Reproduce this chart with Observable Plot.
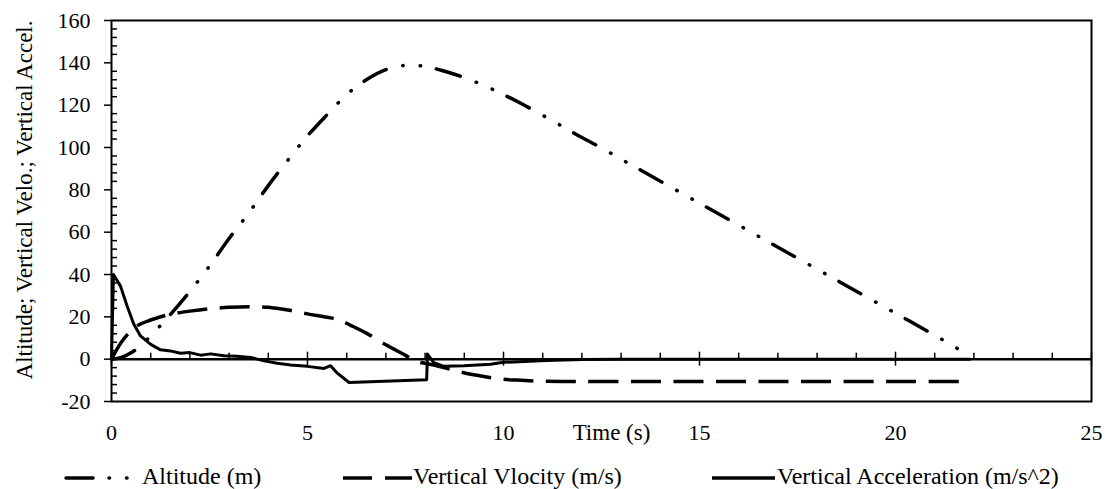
<!DOCTYPE html>
<html>
<head>
<meta charset="utf-8">
<script src="https://cdn.jsdelivr.net/npm/d3@7"></script>
<script src="https://cdn.jsdelivr.net/npm/@observablehq/plot@0.6"></script>
<style>
  html, body { margin: 0; padding: 0; background: #fff; }
  #wrap { width: 1106px; height: 489px; position: relative; }
  #legend { display: block; }
  #chart svg text { font-family: 'Liberation Serif', 'Times New Roman', serif; font-variant-numeric: normal; }
</style>
</head>
<body>
<div id="wrap"><div id="chart"></div><div id="legendBox"></div></div>
<script>
// ---- Data ----
const altT = [0,0.25,0.5,0.75,1,1.5,2,2.5,3,3.5,4,4.5,5,5.5,6,6.5,7,7.5,8,8.5,9,9.5,10,10.5,11,11.5,12,12.5,13,14,15,16,17,18,19,20,21,21.9];
const altV = [0,0.8,3,6.5,11,21,32,44,57,69,82,94,105.5,115.5,125,132,136.8,138.8,138.3,136,133,129.3,125,120.3,115.2,110,104.7,99.8,94.5,84.1,73.7,63.3,52.9,42.5,32.1,21.7,11.3,1.5];

const velT = [0,0.1,0.25,0.4,0.65,1,1.38,1.67,2,2.5,3,3.5,4,4.5,5,5.5,5.8,6.1,6.5,7,7.5,7.76,8,8.3,8.8,9.24,9.5,9.92,10.35,11,12,14,16,18,20,21.9];
const velV = [0,3.5,8,11.5,15.7,18.5,20.7,21.8,22.7,23.8,24.5,24.8,24.5,23.2,21.4,19.8,18.6,16,12.3,6.8,1.8,-1,-2,-3.1,-5.6,-7.4,-8.2,-9.4,-9.9,-10.4,-10.5,-10.5,-10.5,-10.5,-10.5,-10.5];

const accT = [0,0.05,0.23,0.4,0.57,0.74,1,1.25,1.5,1.76,2,2.27,2.53,2.87,3.2,3.55,3.89,4.23,4.57,5,5.42,5.59,5.76,6.06,8.04,8.06,8.22,8.48,8.99,9.67,10,11.1,12,13,15,18,21.9];
const accV = [0,40,34.5,25,16.5,11,7,4.4,3.9,2.8,3.1,1.9,2.5,1.6,1.4,0.8,-0.8,-1.9,-2.8,-3.4,-4.4,-3.1,-6.6,-11,-9.7,2.4,-1.6,-3.4,-3.1,-2.4,-1.5,-0.6,-0.2,0,0,0,0];

const xTicks = [0,5,10,15,20,25];
const xMinor = d3.range(0,26,1).filter(d => d % 5 !== 0);
const yTicks = [-20,0,20,40,60,80,100,120,140,160];
const yMinor = d3.range(-20,161,4).filter(d => d % 20 !== 0);

const seriesNames = ["Altitude (m)", "Vertical Vlocity (m/s)", "Vertical Acceleration (m/s^2)"];
const xTitle = "Time (s)";
const yTitle = "Altitude; Vertical Velo.; Vertical Accel.";

const alt = altT.map((t,i) => ({t, v: altV[i]}));
const vel = velT.map((t,i) => ({t, v: velV[i]}));
const acc = accT.map((t,i) => ({t, v: accV[i]}));

// ---- Layout ----
const W = 1106, H = 455;
const mT = 20, mB = 54, mL = 111, mR = 15;
const plotH = H - mT - mB;
const zeroFromBottom = plotH * (0 - (-20)) / (160 - (-20));
const serif = "'Liberation Serif', 'Times New Roman', serif";
const fmt = d => String(d);

const chart = Plot.plot({
  width: W, height: H,
  marginTop: mT, marginBottom: mB, marginLeft: mL, marginRight: mR,
  style: {fontFamily: serif, fontSize: "22px", color: "black", background: "white", overflow: "visible"},
  x: {domain: [0,25], label: null},
  y: {domain: [-20,160], label: null},
  marks: [
    Plot.frame({stroke: "black", strokeWidth: 2}),
    Plot.ruleY([0], {stroke: "black", strokeWidth: 2.5}),
    // y axis: major outside with labels, minor inside
    Plot.axisY({ticks: yTicks, tickSize: 7, tickPadding: 14, tickFormat: fmt, strokeWidth: 1.5, label: null, fontSize: 22, fontFamily: serif}),
    Plot.axisY({ticks: yMinor, tickSize: 6, dx: 6, tickFormat: () => "", strokeWidth: 1.5, label: null}),
    // x axis ticks on the zero line
    Plot.axisX({ticks: xTicks, tickSize: 14, dy: -zeroFromBottom - 7, tickFormat: () => "", strokeWidth: 1.5, label: null}),
    Plot.axisX({ticks: xMinor, tickSize: 6, dy: -zeroFromBottom - 6, tickFormat: () => "", strokeWidth: 1.5, label: null}),
    // x tick labels at the bottom
    Plot.axisX({ticks: xTicks, tickSize: 0, tickPadding: 23, tickFormat: fmt, label: null, fontSize: 22, fontFamily: serif}),
    // axis titles
    Plot.text([xTitle], {frameAnchor: "bottom", dy: 38, dx: 10, fontSize: 23, fontFamily: serif, text: d => d}),
    Plot.text([yTitle], {frameAnchor: "left", textAnchor: "middle", rotate: -90, dx: -87, dy: -11, fontSize: 23, fontFamily: serif, text: d => d}),
    // series
    Plot.line(alt, {x: "t", y: "v", stroke: "black", strokeWidth: 3.5, curve: "catmull-rom",
      strokeDasharray: "25,17,0.5,17,0.5,16", strokeLinecap: "round"}),
    Plot.line(vel, {x: "t", y: "v", stroke: "black", strokeWidth: 3.5, curve: "catmull-rom",
      strokeDasharray: "30,12.5", strokeLinecap: "butt"}),
    Plot.line(acc, {x: "t", y: "v", stroke: "black", strokeWidth: 3, curve: "linear"})
  ]
});
document.getElementById("chart").appendChild(chart);

// ---- Legend (below the chart) ----
const ns = "http://www.w3.org/2000/svg";
const leg = document.createElementNS(ns, "svg");
leg.setAttribute("id", "legend");
leg.setAttribute("width", W);
leg.setAttribute("height", 34);
const ly = 23, ty = 29;
function line(x1, x2, dash) {
  const l = document.createElementNS(ns, "line");
  l.setAttribute("x1", x1); l.setAttribute("x2", x2);
  l.setAttribute("y1", ly); l.setAttribute("y2", ly);
  l.setAttribute("stroke", "black"); l.setAttribute("stroke-width", 3.5);
  if (dash) { l.setAttribute("stroke-dasharray", dash); l.setAttribute("stroke-linecap", "round"); }
  leg.appendChild(l);
}
function text(x, s) {
  const t = document.createElementNS(ns, "text");
  t.setAttribute("x", x); t.setAttribute("y", ty);
  t.setAttribute("font-family", serif); t.setAttribute("font-size", 24);
  t.setAttribute("fill", "black");
  t.textContent = s;
  leg.appendChild(t);
}
line(66, 128, "27,16,0.5,17,0.5,40");
text(142, seriesNames[0]);
line(343, 372); line(385, 412);
text(413, seriesNames[1]);
line(712, 775);
text(777, seriesNames[2]);
document.getElementById("legendBox").appendChild(leg);
</script>
</body>
</html>
